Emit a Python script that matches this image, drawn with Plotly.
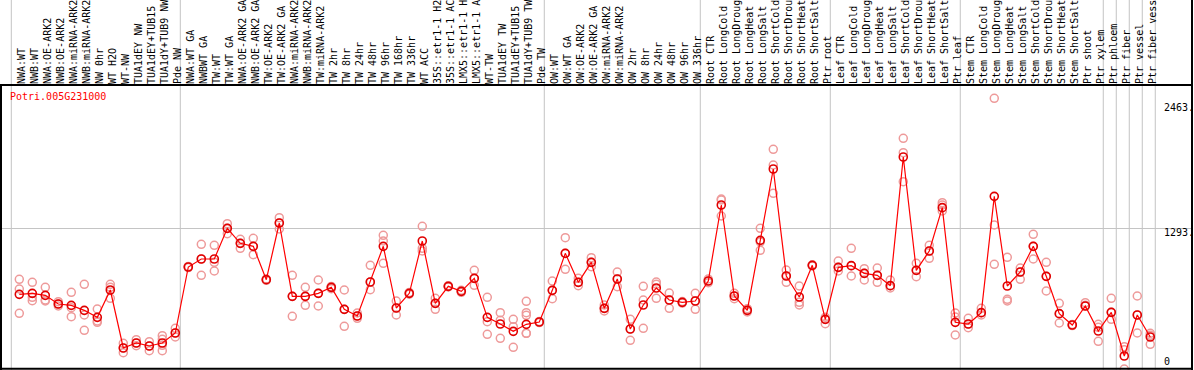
import plotly.graph_objects as go

labels_g1 = ["NWA:WT", "NWB:WT", "NWA:OE-ARK2", "NWB:OE-ARK2", "NWA:miRNA-ARK2", "NWB:miRNA-ARK2",
             "NW 0hr", "WT H2O", "WT-NW", "TUA1dEY NW", "TUA1dEY+TUB15 NW", "TUA1dY+TUB9 NW", "Pde NW"]
labels_g2 = ["NWA:WT GA", "NWBWT GA", "TW:WT", "TW:WT GA", "NWA:OE-ARK2 GA", "NWB:OE-ARK2 GA",
             "TW:OE-ARK2", "TW:OE-ARK2 GA", "NWA:miRNA-ARK2 GA", "NWB:miRNA-ARK2 GA", "TW:miRNA-ARK2",
             "TW 2hr", "TW 8hr", "TW 24hr", "TW 48hr", "TW 96hr", "TW 168hr", "TW 336hr", "WT ACC",
             "35S::etr1-1 H2O", "35S::etr1-1 ACC", "LMX5::etr1-1 H2O", "LMX5::etr1-1 ACC", "WT-TW",
             "TUA1dEY TW", "TUA1dEY+TUB15 TW", "TUA1dY+TUB9 TW", "Pde TW"]
labels_g3 = ["OW:WT", "OW:WT GA", "OW:OE-ARK2", "OW:OE-ARK2 GA", "OW:miRNA-ARK2", "OW:miRNA-ARK2 GA",
             "OW 2hr", "OW 8hr", "OW 24hr", "OW 48hr", "OW 96hr", "OW 336hr"]
labels_g4 = ["Root CTR", "Root LongCold", "Root LongDrought", "Root LongHeat", "Root LongSalt",
             "Root ShortCold", "Root ShortDrought", "Root ShortHeat", "Root ShortSalt", "Ptr root"]
labels_g5 = ["Leaf CTR", "Leaf LongCold", "Leaf LongDrought", "Leaf LongHeat", "Leaf LongSalt",
             "Leaf ShortCold", "Leaf ShortDrought", "Leaf ShortHeat", "Leaf ShortSalt", "Ptr leaf"]
labels_g6 = ["Stem CTR", "Stem LongCold", "Stem LongDrought", "Stem LongHeat", "Stem LongSalt",
             "Stem ShortCold", "Stem ShortDrought", "Stem ShortHeat", "Stem ShortSalt", "Ptr shoot", "Ptr xylem"]
labels_g7 = ["Ptr phloem", "Ptr fiber", "Ptr vessel", "Ptr fiber vessel"]
labels = labels_g1 + labels_g2 + labels_g3 + labels_g4 + labels_g5 + labels_g6 + labels_g7

means = [699, 708, 690, 612, 600, 555, 492, 738, 216, 261, 234, 261, 351,
         945, 1017, 1017, 1293, 1158, 1131, 831, 1341, 681, 681, 708, 762, 564, 504, 810, 1131, 576, 708,
         1179, 618, 771, 726, 843, 492, 432, 366, 429, 450,
         735, 1068, 807, 987, 573, 837, 387, 603, 756, 648, 627, 639,
         819, 1503, 684, 555, 1185, 1827, 864, 675, 960, 474,
         942, 957, 888, 870, 777, 1935, 915, 1089, 1479, 447,
         432, 534, 1581, 774, 900, 1131, 861, 525, 423, 594, 369,
         537, 144, 513, 315]

replicates = [
    [834, 747, 528], [807, 672, 642], [762, 648, 640], [633, 612, 595], [717, 579, 498],
    [789, 513, 375], [567, 459, 447], [789, 663, 762], [258, 216, 174], [291, 237, 261],
    [273, 192, 234], [327, 294, 192, 240], [393, 315, 351],
    [945, 940, 950], [1149, 870, 1017], [1140, 987, 909], [1335, 1245, 1293], [1194, 1113, 1158],
    [1203, 1056, 1131], [831, 825, 837], [1389, 1287, 1341], [870, 501, 681], [762, 600, 681],
    [828, 594, 708], [762, 770, 750], [738, 411, 564], [531, 483, 504], [960, 741, 810],
    [1230, 1179, 978], [639, 513, 576], [700, 716, 708], [1311, 1113, 1089], [663, 564, 618],
    [771, 765, 777], [735, 717, 726], [915, 780, 843], [672, 453, 339], [534, 465, 303],
    [474, 408, 222], [636, 534, 510, 348, 348], [450, 445, 455],
    [819, 660, 735], [1209, 924, 1068], [843, 777, 807], [1029, 948, 987], [603, 549, 573],
    [900, 768, 837], [474, 285, 387], [771, 648, 393], [810, 790, 663], [711, 573, 648],
    [627, 620, 634], [708, 564, 639],
    [837, 804, 819], [1557, 1404, 1548], [708, 660, 684], [570, 540, 555], [1293, 1095, 1170],
    [2004, 1863, 1608], [918, 807, 864], [774, 627, 603], [960, 955, 965], [492, 435, 474],
    [999, 909, 942], [1113, 864, 957], [930, 828, 888], [936, 807, 870], [828, 756, 777],
    [2103, 1974, 1713], [978, 858, 915], [1140, 1023, 1089], [1524, 1503, 1449], [531, 495, 333],
    [483, 399, 432], [573, 513, 534], [2463, 1323, 969], [1032, 654, 639], [936, 834, 900],
    [1239, 1017, 1131], [987, 729, 861], [618, 441, 525], [423, 418, 428], [624, 600, 594],
    [429, 276, 402],
    [663, 474, 537], [228, 200, 27], [684, 351, 513], [348, 330, 249],
]

group_starts = [0, 13, 41, 53, 63, 73, 84, 85, 86, 87, 88]
gene_id = "Potri.005G231000"
axis_labels = ["2463.", "1293.", "0"]
grid_values = [1293]

FONT = "DejaVu Sans Mono"
x_idx = list(range(len(labels)))
rep_x = [i for i, r in enumerate(replicates) for _ in r]
rep_y = [v for r in replicates for v in r]

fig = go.Figure()
fig.add_trace(go.Scatter(
    x=rep_x, y=rep_y, mode="markers",
    marker=dict(symbol="circle-open", size=8, color="#ee9a9a", line=dict(width=1.5, color="#ee9a9a")),
    hoverinfo="skip"))
fig.add_trace(go.Scatter(
    x=x_idx, y=means, mode="lines+markers",
    line=dict(color="#ff0000", width=1.2),
    marker=dict(symbol="circle-open", size=8, color="#e00000", line=dict(width=1.6, color="#d40000"))))

shapes = []
for b in group_starts:
    shapes.append(dict(type="line", xref="x", yref="paper", x0=b - 0.615, x1=b - 0.615, y0=0, y1=1.31,
                       line=dict(color="#c4c4c4", width=1), layer="below"))
# frame
shapes += [
    dict(type="line", xref="paper", yref="paper", x0=-0.002, x1=1, y0=1, y1=1, line=dict(color="black", width=2)),
    dict(type="line", xref="paper", yref="paper", x0=0, x1=0, y0=0, y1=1, line=dict(color="black", width=2)),
    dict(type="line", xref="paper", yref="paper", x0=1, x1=1, y0=0, y1=1.31, line=dict(color="black", width=2)),
    dict(type="line", xref="paper", yref="paper", x0=0, x1=1, y0=0.004, y1=0.004, line=dict(color="black", width=2)),
]

annotations = [dict(text=gene_id, xref="paper", yref="paper", x=0.0067, y=0.958, xanchor="left",
                    yanchor="middle", showarrow=False, borderpad=0,
                    font=dict(family=FONT, size=10, color="#ff0000"))]
for txt, yp in zip(axis_labels, [0.9228, 0.4842, 0.0281]):
    annotations.append(dict(text=txt, xref="paper", yref="paper", x=0.9757, y=yp, xanchor="left",
                            yanchor="middle", showarrow=False, borderpad=0,
                            font=dict(family=FONT, size=10, color="black")))

fig.update_layout(
    template="none",
    width=1194, height=370,
    margin=dict(l=1, r=2, t=85, b=0, pad=0),
    paper_bgcolor="white", plot_bgcolor="white",
    showlegend=False,
    font=dict(family=FONT, size=10, color="black"),
    shapes=shapes, annotations=annotations,
    xaxis=dict(range=[-1.408, 90.21], side="top", tickmode="array", tickvals=x_idx, ticktext=labels,
               tickangle=-90, tickfont=dict(family=FONT, size=10, color="black"), ticks="",
               ticklabelshift=2,
               showgrid=False, zeroline=False, showline=False, automargin=False),
    yaxis=dict(range=[18, 2583], tickmode="array", tickvals=grid_values, showticklabels=False,
               showgrid=True, gridcolor="#c4c4c4", gridwidth=1, zeroline=False, showline=False,
               automargin=False),
)

fig.write_html("out.html", config={"displayModeBar": False},
               post_script="document.body.style.margin='0';document.body.style.overflow='hidden';")
